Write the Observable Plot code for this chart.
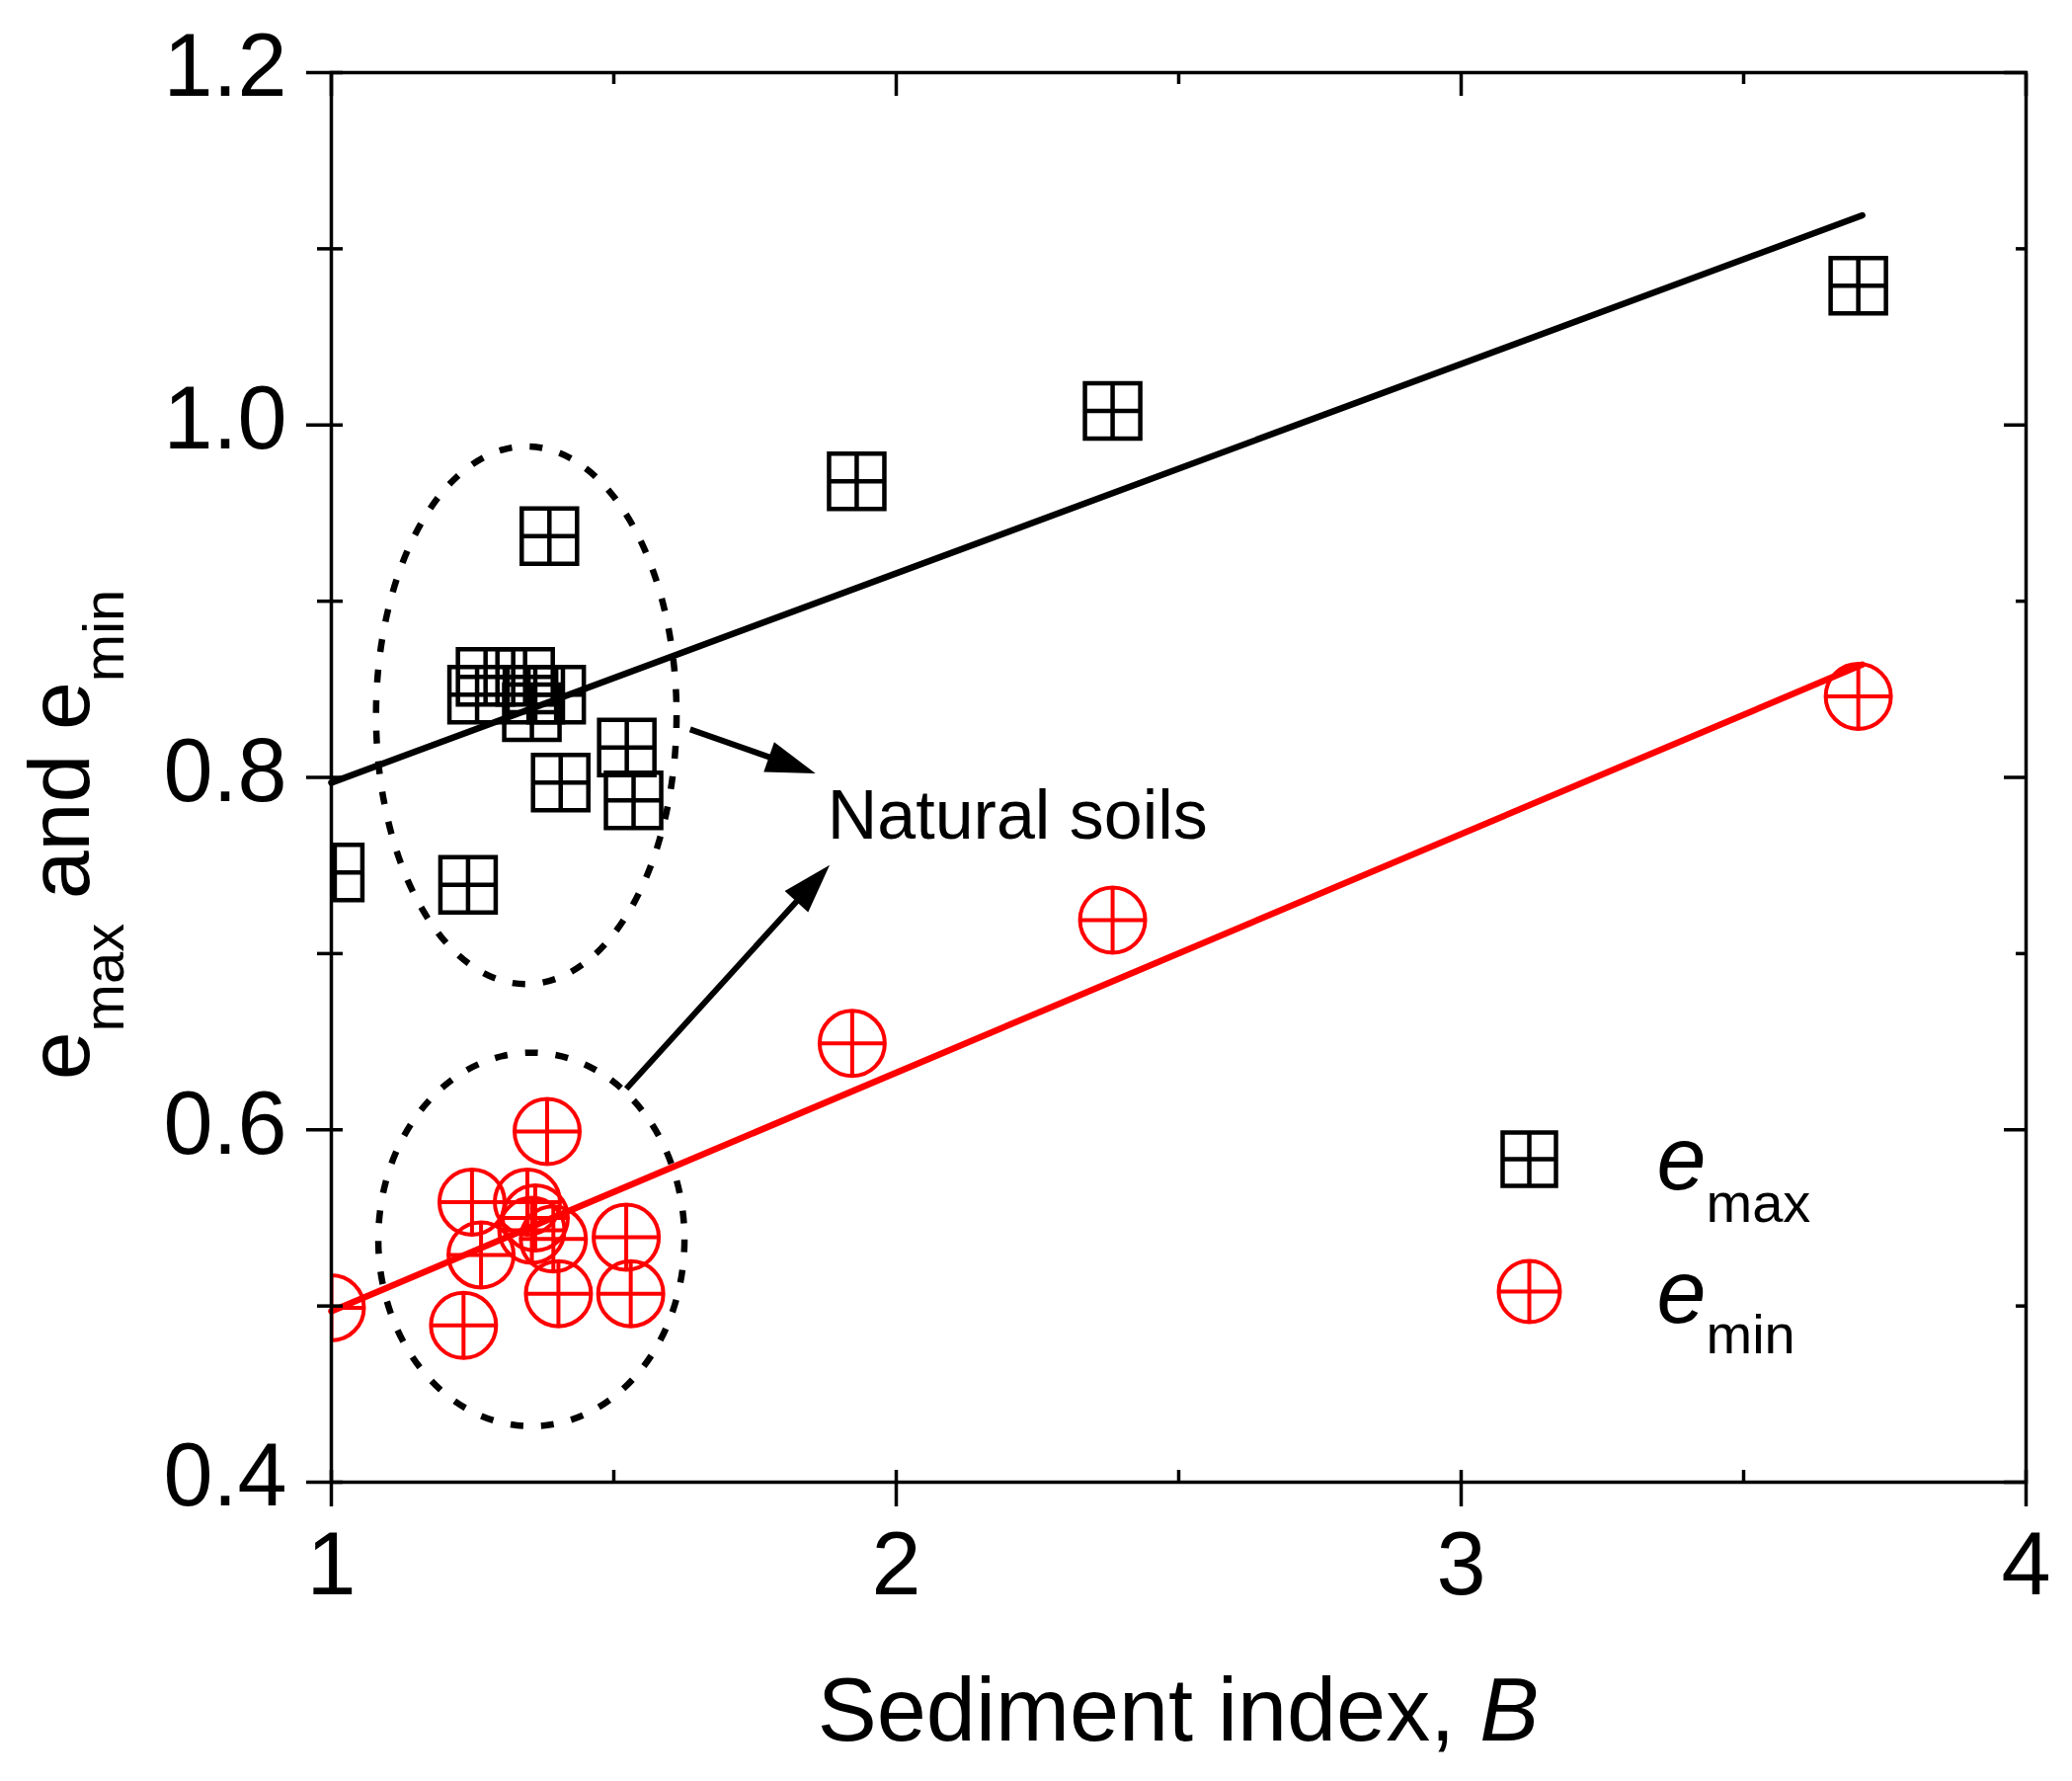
<!DOCTYPE html>
<html>
<head>
<meta charset="utf-8">
<script src="https://cdn.jsdelivr.net/npm/d3@7"></script>
<script src="https://cdn.jsdelivr.net/npm/@observablehq/plot@0.6"></script>
<style>
  html, body { margin: 0; padding: 0; background: #fff; }
  #chart svg { display: block; }
</style>
</head>
<body>
<div id="chart"></div>
<script>
// ---- data ----
const emaxB = [1.006, 1.242, 1.258, 1.273, 1.343, 1.355, 1.361, 1.386, 1.398, 1.406, 1.523, 1.535, 1.930, 2.383, 3.703];
const emaxE = [0.746, 0.739, 0.847, 0.857, 0.857, 0.837, 0.847, 0.937, 0.847, 0.797, 0.817, 0.787, 0.968, 1.008, 1.079];
const eminB = [1.000, 1.234, 1.249, 1.265, 1.347, 1.355, 1.361, 1.382, 1.393, 1.402, 1.522, 1.530, 1.922, 2.383, 3.703];
const eminE = [0.499, 0.489, 0.559, 0.529, 0.559, 0.543, 0.550, 0.599, 0.538, 0.507, 0.539, 0.507, 0.649, 0.719, 0.846];

const fitB = [1.0, 3.71];
const emaxFit = [0.797, 1.119];
const eminFit = [0.497, 0.864];

const xMajorTicks = [1, 2, 3, 4];
const xMinorTicks = [1.5, 2.5, 3.5];
const yMajorTicks = [0.4, 0.6, 0.8, 1.0, 1.2];
const yMinorTicks = [0.5, 0.7, 0.9, 1.1];

// dotted ellipses around the natural soils
const groupCenterB = [1.346, 1.355];
const groupCenterE = [0.835, 0.5375];
const groupRadiusB = [0.266, 0.271];
const groupRadiusE = [0.1526, 0.106];

// annotation arrows and text
const arrowFromB = [1.636, 1.523];
const arrowFromE = [0.827, 0.623];
const arrowToB = [1.858, 1.883];
const arrowToE = [0.802, 0.750];
const noteLabels = ["Natural soils"];
const noteB = [1.878];
const noteE = [0.7655];

const legendLabels = ["max", "min"];
const xTitle = "Sediment index, ";
const xTitleItalic = "B";

// ---- tables ----
const emaxData = emaxB.map((b, i) => ({B: b, e: emaxE[i]}));
const eminData = eminB.map((b, i) => ({B: b, e: eminE[i]}));
const emaxLine = fitB.map((b, i) => ({B: b, e: emaxFit[i]}));
const eminLine = fitB.map((b, i) => ({B: b, e: eminFit[i]}));
const notes = noteLabels.map((t, i) => ({label: t, B: noteB[i], e: noteE[i]}));

// ---- custom symbols ----
const squarePlus = {
  draw(ctx, size) {
    const r = Math.sqrt(size / Math.PI);
    ctx.moveTo(-r, -r); ctx.lineTo(r, -r); ctx.lineTo(r, r); ctx.lineTo(-r, r); ctx.closePath();
    ctx.moveTo(-r, 0); ctx.lineTo(r, 0);
    ctx.moveTo(0, -r); ctx.lineTo(0, r);
  }
};
const circlePlus = {
  draw(ctx, size) {
    const r = Math.sqrt(size / Math.PI);
    ctx.moveTo(r, 0); ctx.arc(0, 0, r, 0, 2 * Math.PI);
    ctx.moveTo(-r, 0); ctx.lineTo(r, 0);
    ctx.moveTo(0, -r); ctx.lineTo(0, r);
  }
};

function findScales(args) {
  return args.find(a => a && typeof a.x === "function" && typeof a.y === "function");
}

// ellipses drawn through Plot's scales
function ellipseMark(...args) {
  const scales = findScales(args);
  const g = d3.create("svg:g");
  groupCenterB.forEach((cb, i) => {
    const cx = scales.x(cb), cy = scales.y(groupCenterE[i]);
    const rx = Math.abs(scales.x(cb + groupRadiusB[i]) - cx);
    const ry = Math.abs(scales.y(groupCenterE[i] + groupRadiusE[i]) - cy);
    g.append("ellipse")
      .attr("cx", cx).attr("cy", cy).attr("rx", rx).attr("ry", ry)
      .attr("fill", "none").attr("stroke", "black")
      .attr("stroke-width", 6.5).attr("stroke-dasharray", "13 18");
  });
  return g.node();
}

// arrows with filled heads, positioned through Plot's scales
function arrowMark(...args) {
  const scales = findScales(args);
  const g = d3.create("svg:g");
  const headLen = 50, headHalf = 16;
  arrowFromB.forEach((b, i) => {
    const x1 = scales.x(b), y1 = scales.y(arrowFromE[i]);
    const x2 = scales.x(arrowToB[i]), y2 = scales.y(arrowToE[i]);
    const dx = x2 - x1, dy = y2 - y1, L = Math.hypot(dx, dy);
    const ux = dx / L, uy = dy / L;
    const bx = x2 - ux * headLen, by = y2 - uy * headLen;
    g.append("line")
      .attr("x1", x1).attr("y1", y1).attr("x2", bx + ux * 4).attr("y2", by + uy * 4)
      .attr("stroke", "black").attr("stroke-width", 6);
    g.append("path")
      .attr("d", `M${x2},${y2}L${bx - uy * headHalf},${by + ux * headHalf}L${bx + uy * headHalf},${by - ux * headHalf}Z`)
      .attr("fill", "black");
  });
  return g.node();
}

const FONT = "'Liberation Sans', Arial, Helvetica, sans-serif";

const chart = Plot.plot({
  width: 2098,
  height: 1803,
  marginLeft: 335,
  marginRight: 47,
  marginTop: 73,
  marginBottom: 303,
  style: {fontFamily: FONT, background: "white", color: "black", overflow: "visible"},
  x: {domain: [1, 4], axis: null},
  y: {domain: [0.4, 1.2], axis: null},
  marks: [
    ellipseMark,
    Plot.line(emaxLine, {x: "B", y: "e", stroke: "black", strokeWidth: 6.5}),
    Plot.line(eminLine, {x: "B", y: "e", stroke: "#ff0000", strokeWidth: 6.5}),
    Plot.dot(emaxData, {x: "B", y: "e", symbol: squarePlus, r: 28, fill: "none", stroke: "black", strokeWidth: 4.5, clip: true}),
    Plot.dot(eminData, {x: "B", y: "e", symbol: circlePlus, r: 33, fill: "none", stroke: "#ff0000", strokeWidth: 4, clip: true}),
    arrowMark,
    Plot.text(notes, {x: "B", y: "e", text: "label", textAnchor: "start", lineAnchor: "bottom", fontSize: 70, fill: "black"}),

    // legend
    Plot.dot([legendLabels[0]], {frameAnchor: "bottom-right", dx: -503, dy: -327, symbol: squarePlus, r: 27, fill: "none", stroke: "black", strokeWidth: 4.5}),
    Plot.dot([legendLabels[1]], {frameAnchor: "bottom-right", dx: -503, dy: -193, symbol: circlePlus, r: 31, fill: "none", stroke: "#ff0000", strokeWidth: 4}),
    Plot.text([legendLabels[0]], {frameAnchor: "bottom-right", text: () => "e", dx: -374, dy: -297, textAnchor: "start", lineAnchor: "bottom", fontSize: 90, fontStyle: "italic", fill: "black"}),
    Plot.text([legendLabels[0]], {frameAnchor: "bottom-right", text: d => d, dx: -324, dy: -264, textAnchor: "start", lineAnchor: "bottom", fontSize: 56, fill: "black"}),
    Plot.text([legendLabels[1]], {frameAnchor: "bottom-right", text: () => "e", dx: -374, dy: -162, textAnchor: "start", lineAnchor: "bottom", fontSize: 90, fontStyle: "italic", fill: "black"}),
    Plot.text([legendLabels[1]], {frameAnchor: "bottom-right", text: d => d, dx: -324, dy: -131, textAnchor: "start", lineAnchor: "bottom", fontSize: 56, fill: "black"}),

    // frame
    Plot.frame({stroke: "black", strokeWidth: 3.5}),

    // bottom axis ticks (crossing) and labels
    Plot.axisX({anchor: "bottom", ticks: xMajorTicks, tickSize: 37, dy: -12, text: null, label: null, strokeWidth: 3.5}),
    Plot.axisX({anchor: "bottom", ticks: xMinorTicks, tickSize: 12, dy: -12, text: null, label: null, strokeWidth: 3.5}),
    Plot.axisX({anchor: "bottom", ticks: xMajorTicks, tickSize: 0, tickPadding: 50, label: null, fontSize: 90, tickFormat: d3.format("d")}),
    // top axis ticks (inward)
    Plot.axisX({anchor: "top", ticks: xMajorTicks, tickSize: 23, dy: 23, text: null, label: null, strokeWidth: 3.5}),
    Plot.axisX({anchor: "top", ticks: xMinorTicks, tickSize: 11, dy: 11, text: null, label: null, strokeWidth: 3.5}),

    // left axis ticks and labels
    Plot.axisY({anchor: "left", ticks: yMajorTicks, tickSize: 37, dx: 12, text: null, label: null, strokeWidth: 3.5}),
    Plot.axisY({anchor: "left", ticks: yMinorTicks, tickSize: 26, dx: 12, text: null, label: null, strokeWidth: 3.5}),
    Plot.axisY({anchor: "left", ticks: yMajorTicks, tickSize: 0, tickPadding: 45, dy: -5, label: null, fontSize: 90, tickFormat: d3.format(".1f")}),
    // right axis ticks (inward)
    Plot.axisY({anchor: "right", ticks: yMajorTicks, tickSize: 23, dx: -23, text: null, label: null, strokeWidth: 3.5}),
    Plot.axisY({anchor: "right", ticks: yMinorTicks, tickSize: 11, dx: -11, text: null, label: null, strokeWidth: 3.5})
  ]
});

document.getElementById("chart").append(chart);

// axis titles with sub-scripts / italics
const svg = d3.select(chart);
const xl = svg.append("text")
  .attr("x", 1193).attr("y", 1762)
  .attr("text-anchor", "middle")
  .attr("font-family", FONT).attr("font-size", 90).attr("fill", "black");
xl.append("tspan").text(xTitle);
xl.append("tspan").attr("font-style", "italic").text(xTitleItalic);

const yl = svg.append("text")
  .attr("transform", "translate(90,845) rotate(-90)")
  .attr("text-anchor", "middle")
  .attr("font-family", FONT).attr("font-size", 88).attr("fill", "black");
yl.append("tspan").text("e");
yl.append("tspan").attr("font-size", 58).attr("dy", 35).text(legendLabels[0]);
yl.append("tspan").attr("dy", -35).text(" and e");
yl.append("tspan").attr("font-size", 58).attr("dy", 35).text(legendLabels[1]);
</script>
</body>
</html>
